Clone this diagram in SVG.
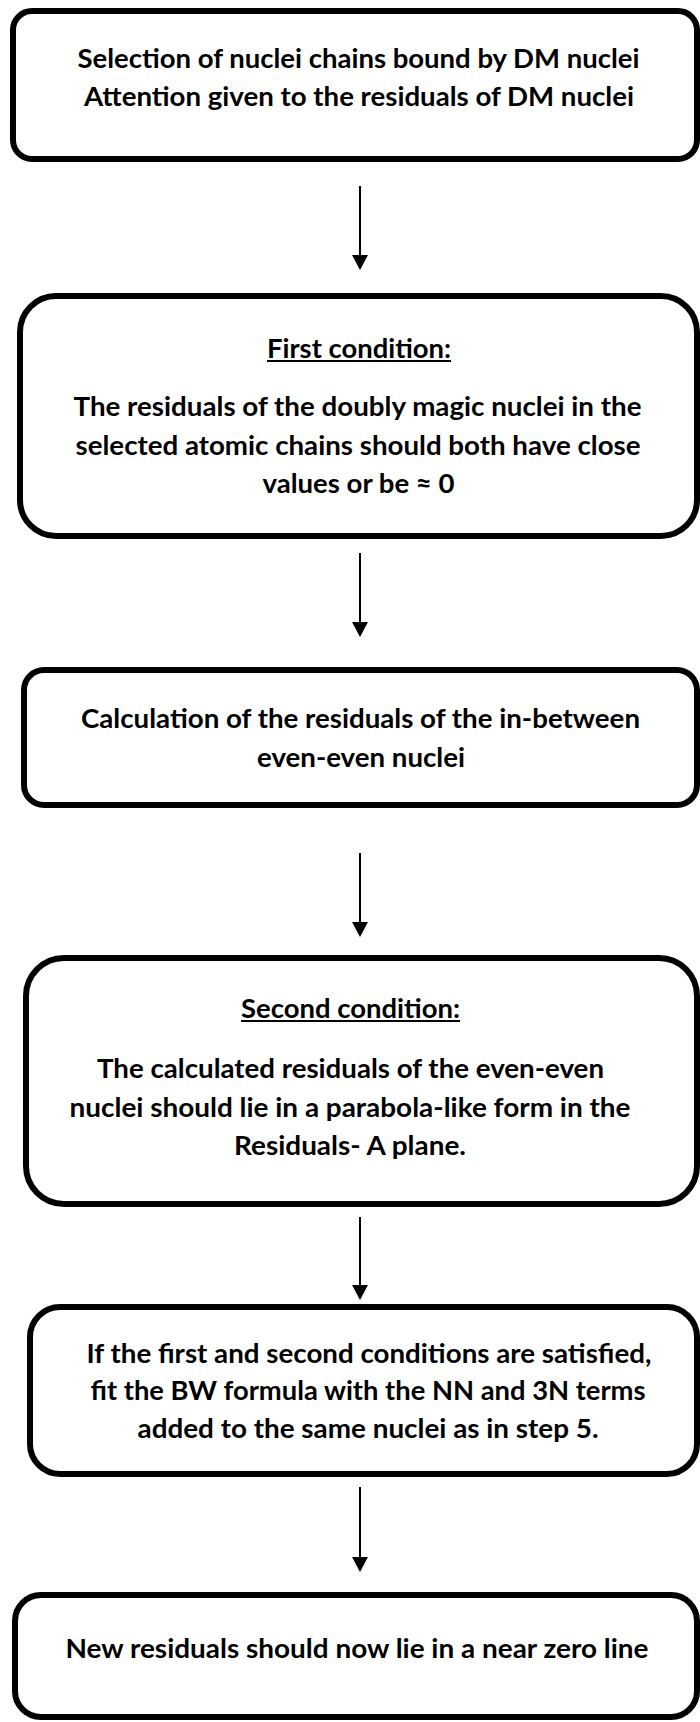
<svg xmlns="http://www.w3.org/2000/svg" width="700" height="1722" viewBox="0 0 700 1722">
<style>
.box{fill:#fff;stroke:#000;stroke-width:6}
.t{font-family:Lato,"Liberation Sans",sans-serif;font-weight:bold;font-size:26.5px;fill:#000;text-anchor:middle}
.u{text-decoration:underline}
.c{stroke:#000;stroke-width:2;fill:none}
</style>
<defs>
<marker id="ah" markerUnits="userSpaceOnUse" markerWidth="16" markerHeight="16" refX="1" refY="8" orient="auto">
<path d="M0,0 L15,8 L0,16 z" fill="#000"/>
</marker>
</defs>
<rect width="700" height="1722" fill="#fff"/>
<g id="connectors">
<line class="c" x1="360" y1="186" x2="360" y2="256" marker-end="url(#ah)"/>
<line class="c" x1="360" y1="553" x2="360" y2="623" marker-end="url(#ah)"/>
<line class="c" x1="360" y1="853" x2="360" y2="923" marker-end="url(#ah)"/>
<line class="c" x1="360" y1="1217" x2="360" y2="1286" marker-end="url(#ah)"/>
<line class="c" x1="360" y1="1487" x2="360" y2="1558" marker-end="url(#ah)"/>
</g>
<g id="n1">
<rect class="box" x="13" y="11" width="684" height="148" rx="19"/>
<text class="t" x="358.5" y="68" textLength="562" lengthAdjust="spacingAndGlyphs">Selection of nuclei chains bound by DM nuclei</text>
<text class="t" x="359" y="106" textLength="550" lengthAdjust="spacingAndGlyphs">Attention given to the residuals of DM nuclei</text>
</g>
<g id="n2">
<rect class="box" x="20" y="296" width="677" height="240" rx="36"/>
<text class="t" x="359" y="358" textLength="184" lengthAdjust="spacingAndGlyphs">First condition:</text>
<line x1="267" y1="361" x2="451" y2="361" stroke="#000" stroke-width="2"/>
<text class="t" x="357.5" y="416" textLength="568" lengthAdjust="spacingAndGlyphs">The residuals of the doubly magic nuclei in the</text>
<text class="t" x="358" y="455" textLength="565" lengthAdjust="spacingAndGlyphs">selected atomic chains should both have close</text>
<text class="t" x="358.5" y="493" textLength="192" lengthAdjust="spacingAndGlyphs">values or be ≈ 0</text>
</g>
<g id="n3">
<rect class="box" x="24" y="670" width="673" height="135" rx="20"/>
<text class="t" x="360.5" y="728" textLength="559" lengthAdjust="spacingAndGlyphs">Calculation of the residuals of the in-between</text>
<text class="t" x="361" y="767" textLength="208" lengthAdjust="spacingAndGlyphs">even-even nuclei</text>
</g>
<g id="n4">
<rect class="box" x="26" y="958" width="671" height="246" rx="38"/>
<text class="t" x="350.5" y="1018" textLength="219" lengthAdjust="spacingAndGlyphs">Second condition:</text>
<line x1="241" y1="1021" x2="460" y2="1021" stroke="#000" stroke-width="2"/>
<text class="t" x="350.5" y="1078" textLength="507" lengthAdjust="spacingAndGlyphs">The calculated residuals of the even-even</text>
<text class="t" x="350" y="1117" textLength="561" lengthAdjust="spacingAndGlyphs">nuclei should lie in a parabola-like form in the</text>
<text class="t" x="350" y="1155" textLength="232" lengthAdjust="spacingAndGlyphs">Residuals- A plane.</text>
</g>
<g id="n5">
<rect class="box" x="30" y="1307" width="667" height="167" rx="30"/>
<text class="t" x="369" y="1363" textLength="565" lengthAdjust="spacingAndGlyphs">If the first and second conditions are satisfied,</text>
<text class="t" x="368" y="1400" textLength="555" lengthAdjust="spacingAndGlyphs">fit the BW formula with the NN and 3N terms</text>
<text class="t" x="368" y="1438" textLength="461" lengthAdjust="spacingAndGlyphs">added to the same nuclei as in step 5.</text>
</g>
<g id="n6">
<rect class="box" x="15" y="1595" width="682" height="122" rx="26"/>
<text class="t" x="357" y="1658" textLength="583" lengthAdjust="spacingAndGlyphs">New residuals should now lie in a near zero line</text>
</g>
</svg>
